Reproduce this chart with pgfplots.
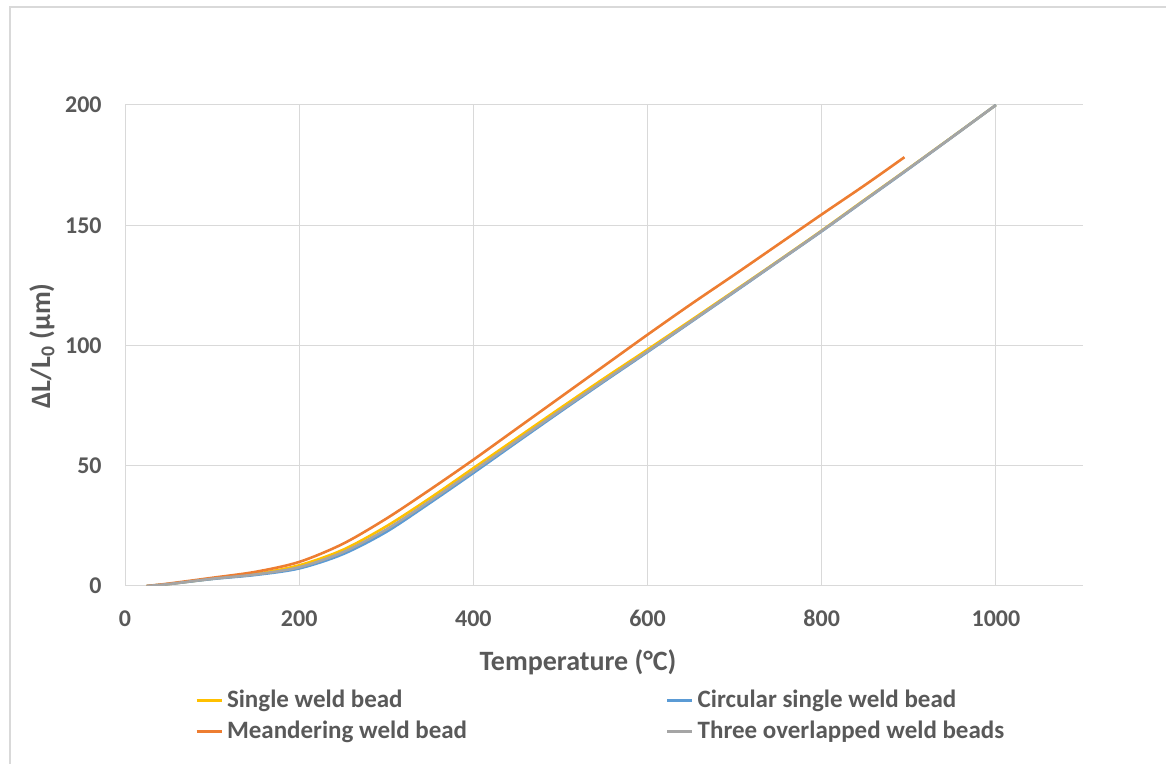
\documentclass[border=0pt]{standalone}
\usepackage{fontspec}
\setmainfont{Carlito}
\usepackage{pgfplots}
\pgfplotsset{compat=1.18}
\definecolor{txt}{HTML}{595959}
\definecolor{gridc}{HTML}{D9D9D9}
\definecolor{cyel}{HTML}{FFC000}
\definecolor{cblue}{HTML}{5B9BD5}
\definecolor{corange}{HTML}{ED7D31}
\definecolor{cgray}{HTML}{A5A5A5}

\begin{document}
\begin{tikzpicture}
% 1 px of the reference = 0.5pt
\path[use as bounding box] (0,0) rectangle (583pt,382pt);
\draw[gridc, line width=0.6pt] (5pt,0pt) -- (5pt,378.5pt) -- (583pt,378.5pt);

\begin{axis}[
    at={(62.5pt,89pt)}, anchor=south west,
    scale only axis,
    width=479pt, height=240.5pt,
    xmin=0, xmax=1100, ymin=0, ymax=200,
    xtick={0,200,...,1000},
    ytick={0,50,...,200},
    axis line style={draw=none},
    major tick length=0pt,
    grid=major,
    major grid style={gridc, line width=0.5pt},
    tick label style={font=\fontsize{12}{14}\selectfont\bfseries, text=txt},
    /pgf/number format/assume math mode=true,
    /pgf/number format/1000 sep={},
    yticklabel style={anchor=east, inner sep=0pt, xshift=-11.5pt},
    xticklabel style={anchor=north, inner sep=0pt, yshift=-12pt},
    legend columns=2,
    legend cell align=left,
    legend style={at={(0.0668,-0.1996)}, anchor=north west, draw=none, fill=none,
        font=\fontsize{12.5}{15}\selectfont\bfseries, text=txt,
        /tikz/every even column/.append style={column sep=97.5pt},
        row sep=1pt},
    legend image code/.code={\draw[#1, line width=1.3pt] (0pt,0pt) -- (12.5pt,0pt);},
    every axis plot/.append style={line width=1.3pt, smooth, tension=0.5},
]

\addplot[cyel] coordinates {
    (25,0) (50,0.8) (100,3.0) (150,5.0) (200,8.6) (250,15.0) (300,24.8)
    (350,36.5) (400,49.0) (450,61.5) (500,74.0) (550,86.3) (600,98.3)
    (650,110.5) (700,122.8) (750,135.2) (800,147.8) (850,160.8)
    (900,173.7) (950,186.8) (1000,200)
};
\addlegendentry{Single weld bead}

\addplot[cblue] coordinates {
    (25,0) (50,0.8) (100,2.9) (150,4.6) (200,7.3) (250,13.2) (300,22.5)
    (350,34.5) (400,47.0) (450,59.8) (500,72.5) (550,85.0) (600,97.3)
    (650,109.8) (700,122.3) (750,134.9) (800,147.5) (850,160.5)
    (900,173.5) (950,186.7) (1000,200)
};
\addlegendentry{Circular single weld bead}

\addplot[corange] coordinates {
    (25,0) (50,1.0) (100,3.4) (150,5.9) (200,10.0) (250,17.5) (300,28.0)
    (350,40.0) (400,52.5) (450,65.5) (500,78.5) (550,91.5) (600,104.5)
    (650,117.2) (700,129.5) (750,142.0) (800,154.5) (850,166.8) (895,178.3)
};
\addlegendentry{Meandering weld bead}

\addplot[cgray] coordinates {
    (25,0) (50,0.8) (100,3.0) (150,4.8) (200,7.8) (250,14.0) (300,23.5)
    (350,35.3) (400,47.8) (450,60.4) (500,73.0) (550,85.4) (600,97.6)
    (650,110.0) (700,122.5) (750,135.0) (800,147.6) (850,160.6)
    (900,173.6) (950,186.7) (1000,200)
};
\addlegendentry{Three overlapped weld beads}

\end{axis}

\node[text=txt, font=\fontsize{14}{16}\selectfont\bfseries] at (289pt,51pt) {Temperature (°C)};
\node[text=txt, font=\fontsize{14}{16}\selectfont\bfseries, rotate=90] at (21pt,209pt) {ΔL/L\textsubscript{0} (µm)};
\end{tikzpicture}
\end{document}
